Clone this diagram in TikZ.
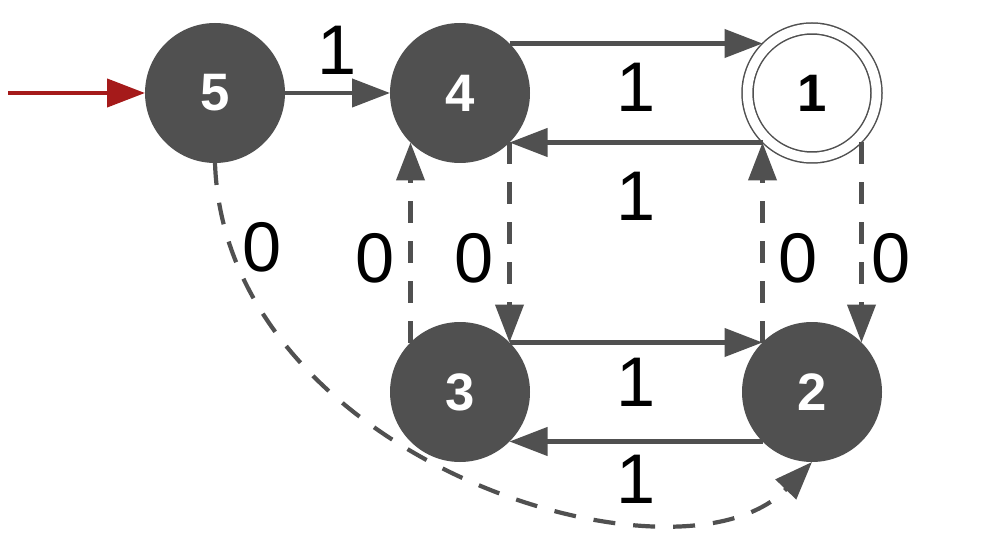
\documentclass[tikz,border=0pt]{standalone}
\usepackage{fontspec}
\setmainfont{Liberation Sans}
\usepackage{xcolor}
\usetikzlibrary{arrows.meta}
\definecolor{gris}{RGB}{80,80,80}
\definecolor{rojo}{RGB}{165,26,26}
\tikzset{
  estado/.style={circle, fill=gris, minimum size=14mm, inner sep=0pt, outer sep=0pt,
    text=white, font=\bfseries\fontsize{15}{15}\selectfont},
  final/.style={circle, draw=gris, line width=0.15mm, double, double distance=0.95mm,
    minimum size=12.9mm, inner sep=0pt, outer sep=0.55mm, font=\bfseries\fontsize{15}{15}\selectfont},
  trans/.style={draw=gris, line width=0.42mm, -{Triangle[length=3.8mm, width=2.8mm]}},
  cero/.style={trans, dash pattern=on 2.2mm off 1.8mm},
  etiq/.style={font=\fontsize{20}{20}\selectfont, inner sep=0pt}
}

\begin{document}
\begin{tikzpicture}[x=0.1mm, y=-0.1mm]
  \useasboundingbox (0,0) rectangle (992,557);
  \node[estado] (n5) at (215,93) {5};
  \node[estado] (n4) at (460,93) {4};
  \node[final] (n1) at (812,93) {1};
  \node[estado] (n3) at (460,392) {3};
  \node[estado] (n2) at (812,392) {2};
  \coordinate (entrada) at (8,93);

  \draw[trans, draw=rojo] (entrada) -- (n5);
  \draw[trans] (n5) -- node[etiq, above=1.6mm] {1} (n4);
  \draw[trans] (n4.45) -- node[etiq, below=1.8mm] {1} (n1.135);
  \draw[trans] (n1.225) -- node[etiq, below=2.8mm] {1} (n4.315);
  \draw[trans] (n3.45) -- node[etiq, below=1.4mm] {1} (n2.135);
  \draw[trans] (n2.225) -- node[etiq, below=1.2mm] {1} (n3.315);
  % transiciones con 0
  \draw[cero] (n3.135) -- node[etiq, pos=.42, left=1.4mm] {0} (n4.225);
  \draw[cero] (n4.315) -- node[etiq, pos=.58, left=1.4mm] {0} (n3.45);
  \draw[cero] (n2.135) -- node[etiq, pos=.42, right=1.4mm] {0} (n1.225);
  \draw[cero] (n1.315) -- node[etiq, pos=.58, right=0.8mm] {0} (n2.45);
  \draw[cero] (n5.south) .. controls (225,460) and (680,600) .. node[etiq, pos=.1, right=1mm] {0} (n2.south);
\end{tikzpicture}
\end{document}
